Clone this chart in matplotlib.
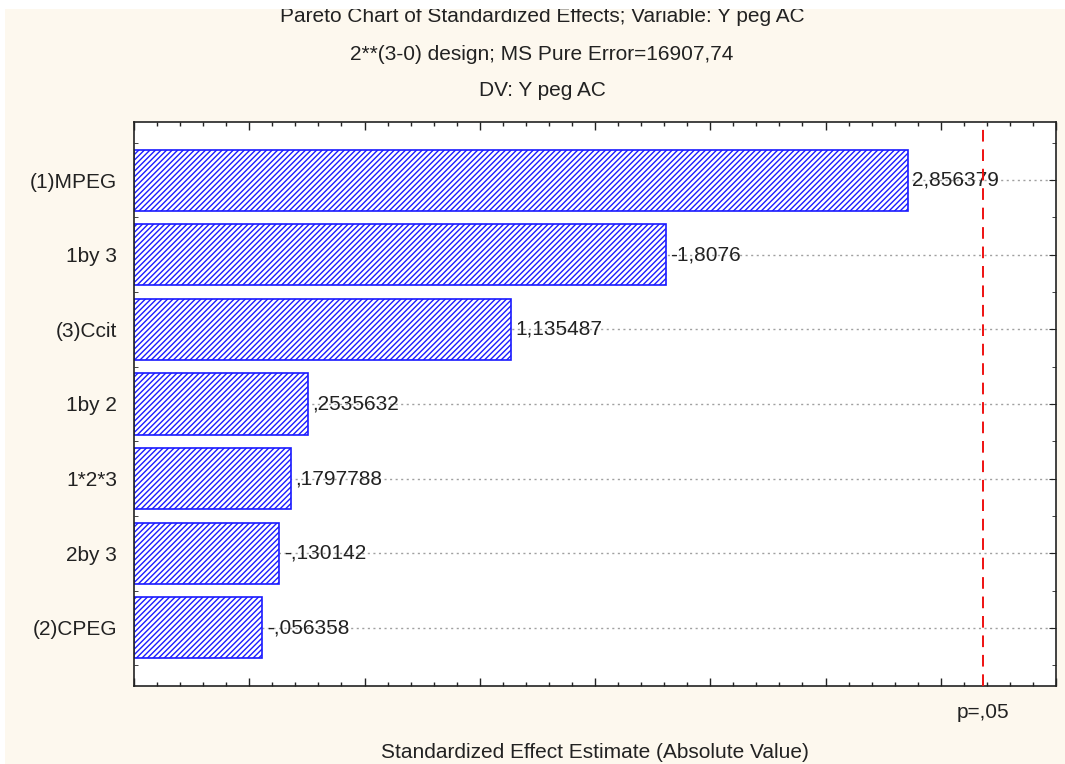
import matplotlib.pyplot as plt
from matplotlib.patches import Rectangle
from matplotlib.ticker import MultipleLocator

plt.rcParams['font.family'] = ['Liberation Sans', 'DejaVu Sans']
plt.rcParams['hatch.color'] = '#1a1aff'
plt.rcParams['hatch.linewidth'] = 1.0

# Data
factors = ['(1)MPEG', '1by 3', '(3)Ccit', '1by 2', '1*2*3', '2by 3', '(2)CPEG']
effects = [2.856379, -1.8076, 1.135487, 0.2535632, 0.1797788, -0.130142, -0.056358]
p_crit = 3.182446  # t(0.975, df=3)


def fmt(v):
    s = f"{v:.7g}"
    s = s.replace('0.', '.', 1) if s.lstrip('-').startswith('0.') else s
    return s.replace('.', ',')


cream = '#fdf8ee'
txt = '#222222'
fs = 15
fig = plt.figure(figsize=(10.65, 7.64), dpi=100)
fig.patch.set_facecolor(cream)

ax = fig.add_axes([134 / 1065, 1 - 686 / 764, (1056 - 134) / 1065, (686 - 122) / 764])
ax.set_facecolor('white')

y = list(range(len(factors)))
absvals = [abs(v) for v in effects]

# horizontal dotted guide lines
for yi in y:
    ax.axhline(yi, color='#a0a0a0', linestyle=(0, (1.5, 2.5)), linewidth=1.0, zorder=1)

ax.barh(y, [a + 0.5 for a in absvals], left=-0.5, height=0.82, color='white',
        edgecolor='#1a1aff', hatch='//////', linewidth=1.2, zorder=2)

for yi, a, v in zip(y, absvals, effects):
    ax.text(a + 0.02, yi, fmt(v), va='center', ha='left', fontsize=fs,
            color=txt, zorder=3)

ax.axvline(p_crit, color='#ee1111', linestyle=(0, (6, 4)), linewidth=1.4, zorder=4)
ax.text(p_crit, -0.03, 'p=,05', transform=ax.get_xaxis_transform(), ha='center',
        va='top', fontsize=fs, color=txt)

ax.set_xlim(-0.5, 3.5)
ax.set_ylim(len(factors) - 1 + 0.78, -0.78)
ax.set_yticks(y)
ax.set_yticklabels(factors, fontsize=fs, color=txt)
ax.yaxis.set_minor_locator(MultipleLocator(0.5))
ax.xaxis.set_major_locator(MultipleLocator(0.5))
ax.xaxis.set_minor_locator(MultipleLocator(0.1))
ax.set_xticklabels([])
ax.tick_params(axis='both', which='both', direction='in', top=True, right=True,
               color=txt)
ax.tick_params(axis='x', which='major', length=6, width=1)
ax.tick_params(axis='x', which='minor', length=3, width=1)
ax.tick_params(axis='y', which='major', length=5, pad=12)
ax.tick_params(axis='y', which='minor', length=3)
for s in ax.spines.values():
    s.set_color(txt)
    s.set_linewidth(1.2)

fig.text(595 / 1065, 1 - 752 / 764, 'Standardized Effect Estimate (Absolute Value)',
         ha='center', va='center', fontsize=fs, color=txt)

cx = 542 / 1065
fig.text(cx, 1 - 17 / 764, 'Pareto Chart of Standardized Effects; Variable: Y peg AC',
         ha='center', va='center', fontsize=fs, color=txt)
fig.text(cx, 1 - 55 / 764, '2**(3-0) design; MS Pure Error=16907,74',
         ha='center', va='center', fontsize=fs, color=txt)
fig.text(cx, 1 - 91 / 764, 'DV: Y peg AC', ha='center', va='center', fontsize=fs,
         color=txt)

# white screenshot margins at top and left edge
fig.add_artist(Rectangle((0, 1 - 9 / 764), 1, 9 / 764, transform=fig.transFigure,
                         facecolor='white', edgecolor='none', zorder=10))
fig.add_artist(Rectangle((0, 0), 5 / 1065, 1, transform=fig.transFigure,
                         facecolor='white', edgecolor='none', zorder=10))

fig.savefig('out.png', dpi=100, facecolor=fig.get_facecolor())
